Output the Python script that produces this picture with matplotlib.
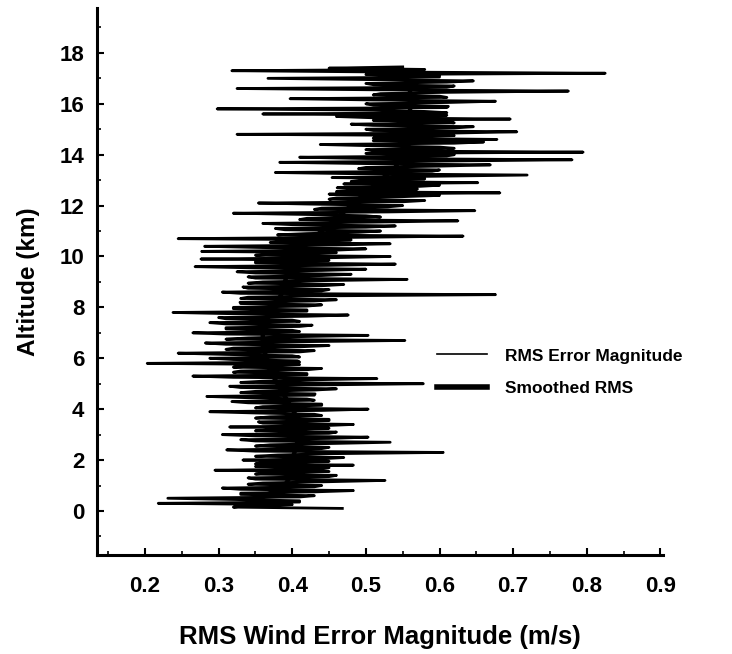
import numpy as np
import matplotlib
matplotlib.use('Agg')
import matplotlib.pyplot as plt
from matplotlib.ticker import MultipleLocator

plt.rcParams['font.family'] = ['Liberation Sans', 'DejaVu Sans']

# altitude grid (km) of the RMS profile, 0.05 km steps
altitude = np.round(np.arange(0.1, 17.47, 0.05), 2)

# RMS wind error magnitude (m/s) bottom to top (one row = 0.5 km)
rms_error = [
    0.468, 0.32, 0.335, 0.40, 0.218, 0.41, 0.41, 0.32, 0.231, 0.41,
    0.43, 0.33, 0.33, 0.43, 0.483, 0.33, 0.305, 0.43, 0.44, 0.34,
    0.36, 0.45, 0.526, 0.35, 0.34, 0.45, 0.46, 0.35, 0.37, 0.45,
    0.295, 0.44, 0.45, 0.35, 0.483, 0.35, 0.36, 0.45, 0.333, 0.44,
    0.47, 0.35, 0.38, 0.45, 0.605, 0.35, 0.311, 0.44, 0.45, 0.35,
    0.37, 0.45, 0.533, 0.35, 0.33, 0.45, 0.503, 0.35, 0.305, 0.45,
    0.46, 0.35, 0.38, 0.45, 0.315, 0.44, 0.483, 0.36, 0.354, 0.45,
    0.45, 0.35, 0.37, 0.44, 0.43, 0.35, 0.288, 0.44, 0.503, 0.35,
    0.36, 0.44, 0.44, 0.34, 0.318, 0.43, 0.42, 0.34, 0.284, 0.43,
    0.431, 0.33, 0.35, 0.43, 0.46, 0.33, 0.315, 0.43, 0.578, 0.33,
    0.36, 0.42, 0.515, 0.32, 0.265, 0.42, 0.42, 0.32, 0.33, 0.42,
    0.44, 0.32, 0.35, 0.41, 0.203, 0.41, 0.407, 0.32, 0.288, 0.41,
    0.40, 0.31, 0.245, 0.41, 0.43, 0.31, 0.32, 0.41, 0.45, 0.31,
    0.282, 0.41, 0.553, 0.31, 0.34, 0.41, 0.503, 0.31, 0.265, 0.41,
    0.40, 0.31, 0.31, 0.41, 0.427, 0.31, 0.288, 0.41, 0.40, 0.31,
    0.30, 0.42, 0.476, 0.32, 0.238, 0.42, 0.42, 0.32, 0.32, 0.42,
    0.44, 0.33, 0.329, 0.43, 0.46, 0.33, 0.34, 0.43, 0.676, 0.33,
    0.305, 0.44, 0.45, 0.34, 0.333, 0.44, 0.47, 0.34, 0.36, 0.44,
    0.556, 0.35, 0.34, 0.44, 0.48, 0.35, 0.325, 0.44, 0.50, 0.35,
    0.268, 0.45, 0.54, 0.35, 0.35, 0.45, 0.276, 0.45, 0.533, 0.35,
    0.38, 0.46, 0.277, 0.46, 0.50, 0.36, 0.281, 0.46, 0.533, 0.37,
    0.40, 0.48, 0.245, 0.48, 0.632, 0.38, 0.42, 0.49, 0.52, 0.39,
    0.377, 0.50, 0.54, 0.40, 0.36, 0.51, 0.625, 0.41, 0.42, 0.52,
    0.50, 0.42, 0.32, 0.53, 0.648, 0.43, 0.44, 0.53, 0.55, 0.44,
    0.354, 0.55, 0.58, 0.45, 0.46, 0.55, 0.60, 0.45, 0.682, 0.46,
    0.48, 0.57, 0.461, 0.57, 0.60, 0.47, 0.652, 0.48, 0.50, 0.58,
    0.454, 0.59, 0.719, 0.49, 0.377, 0.59, 0.60, 0.49, 0.50, 0.60,
    0.669, 0.50, 0.383, 0.61, 0.78, 0.50, 0.41, 0.61, 0.62, 0.50,
    0.795, 0.51, 0.50, 0.62, 0.60, 0.51, 0.438, 0.62, 0.66, 0.51,
    0.678, 0.51, 0.52, 0.62, 0.325, 0.62, 0.705, 0.51, 0.50, 0.62,
    0.646, 0.51, 0.48, 0.62, 0.60, 0.51, 0.696, 0.51, 0.46, 0.61,
    0.36, 0.61, 0.58, 0.51, 0.298, 0.61, 0.612, 0.51, 0.50, 0.61,
    0.676, 0.51, 0.397, 0.61, 0.60, 0.51, 0.52, 0.61, 0.775, 0.51,
    0.325, 0.61, 0.62, 0.51, 0.50, 0.61, 0.646, 0.51, 0.367, 0.60,
    0.60, 0.50, 0.825, 0.52, 0.318, 0.58, 0.45, 0.55,
]

# smoothed RMS profile
smooth_alt = [0.3, 0.7, 1.0, 1.5, 2.0, 3.0, 3.5, 4.0, 4.5, 5.0, 5.5, 6.0, 6.5, 7.0,
              7.5, 8.0, 8.5, 9.0, 9.5, 10.0, 10.5, 11.0, 11.5, 12.0, 12.5, 13.0,
              13.5, 14.0, 14.5, 15.0, 15.5, 16.0, 16.5, 17.0]
smooth_rms = [0.34, 0.37, 0.39, 0.40, 0.40, 0.41, 0.41, 0.40, 0.39, 0.38, 0.37, 0.365,
              0.36, 0.36, 0.365, 0.375, 0.385, 0.39, 0.395, 0.40, 0.42, 0.44, 0.46,
              0.48, 0.50, 0.52, 0.54, 0.55, 0.56, 0.56, 0.56, 0.56, 0.56, 0.555]

fig = plt.figure(figsize=(7.32, 6.54), dpi=100)
ax = fig.add_axes([0.1325, 0.1514, 0.7735, 0.8366])

ax.plot(rms_error, altitude, color='black', lw=2.0, label='RMS Error Magnitude')
ax.plot(smooth_rms, smooth_alt, color='black', lw=3.2, label='Smoothed RMS')

ax.set_xlim(0.1348, 0.9038)
ax.set_ylim(-1.73, 19.77)
ax.xaxis.set_minor_locator(MultipleLocator(0.05))
ax.yaxis.set_minor_locator(MultipleLocator(1))
ax.set_xticks(np.arange(0.2, 0.95, 0.1))
ax.set_xticklabels(['0.2', '0.3', '0.4', '0.5', '0.6', '0.7', '0.8', '0.9'])
ax.set_yticks(range(0, 19, 2))

for side in ['top', 'right']:
    ax.spines[side].set_visible(False)
for side in ['left', 'bottom']:
    ax.spines[side].set_linewidth(2.2)

ax.tick_params(which='major', direction='in', length=5, width=1.5, labelsize=16)
ax.tick_params(axis='x', which='major', pad=15)
ax.tick_params(axis='y', which='major', pad=9)
ax.tick_params(which='minor', direction='in', length=3, width=1.2)
for lab in ax.get_xticklabels() + ax.get_yticklabels():
    lab.set_fontweight('bold')

ax.set_xlabel('RMS Wind Error Magnitude (m/s)', fontsize=18.5, fontweight='semibold', labelpad=20)
ax.set_ylabel('Altitude (km)', fontsize=17.5, fontweight='bold', labelpad=14)

leg = ax.legend(loc='center left', bbox_to_anchor=(0.6007, 0.334), frameon=False,
                fontsize=12.5, handlelength=2.9, handletextpad=1.0, labelspacing=1.0,
                borderpad=0, borderaxespad=0)
for t in leg.get_texts():
    t.set_fontweight('bold')
leg.get_lines()[0].set_linewidth(1.2)
leg.get_lines()[1].set_linewidth(4)

fig.savefig('out.png', dpi=100)
